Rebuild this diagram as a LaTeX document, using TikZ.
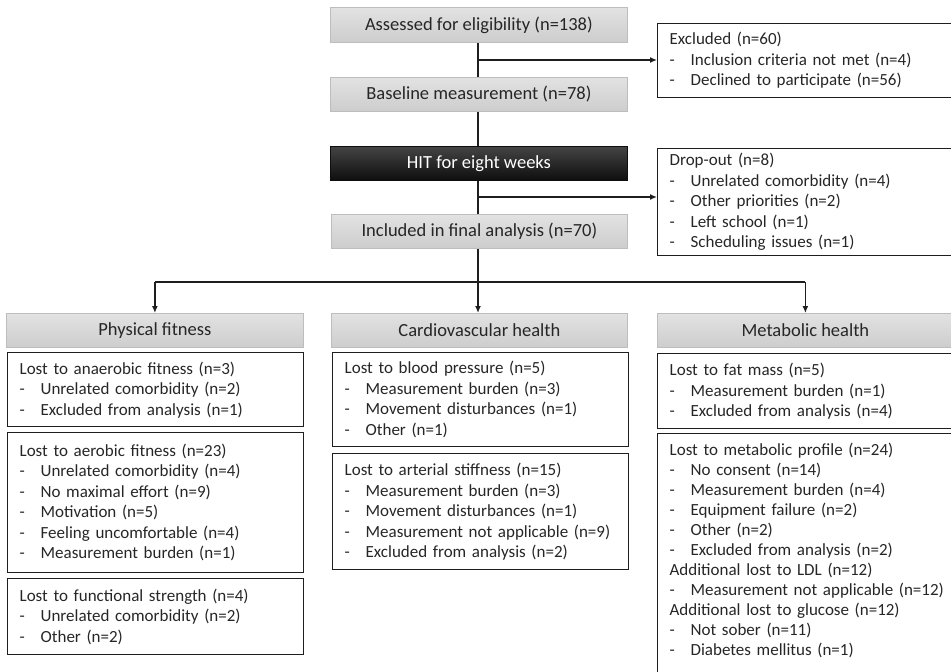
\documentclass[tikz,border=0pt]{standalone}
\usepackage{fontspec}
\setmainfont{Carlito}
\usetikzlibrary{arrows.meta}
\definecolor{linec}{HTML}{1E1E1E}
\definecolor{txt}{HTML}{262626}
\definecolor{hdrtop}{HTML}{E2E2E2}
\definecolor{hdrbot}{HTML}{CDCDCD}
\definecolor{hdrline}{HTML}{BDBDBD}
\definecolor{hittop}{HTML}{444444}
\definecolor{hitbot}{HTML}{0E0E0E}
\newcommand\itm[1]{\makebox[21pt][l]{-}#1}
\tikzset{
  hdr/.style={rectangle, anchor=north west, top color=hdrtop, bottom color=hdrbot,
    draw=hdrline, line width=0.8pt, inner sep=0pt, text=txt,
    font=\fontsize{18.5}{20}\selectfont},
  hitbox/.style={hdr, top color=hittop, bottom color=hitbot, draw=hitbot, text=white},
  listbox/.style={rectangle, anchor=north west, draw=linec, line width=1.3pt,
    inner xsep=12pt, inner ysep=0pt, align=left, text=txt,
    font=\fontsize{17}{20.5}\selectfont},
  conn/.style={draw=linec, line width=1.4pt},
  arr/.style={conn, -{Latex[length=7pt,width=6pt]}},
}
\begin{document}
\begin{tikzpicture}[x=1pt,y=-1pt]
\useasboundingbox (0,0) rectangle (951,672);
% main column
\node[hdr, minimum width=297pt, minimum height=35pt] (assess) at (330,7) {Assessed for eligibility (n=138)};
\node[hdr, minimum width=297pt, minimum height=34pt] (base) at (330,77) {Baseline measurement (n=78)};
\node[hitbox, minimum width=297pt, minimum height=34pt] (hit) at (330,146) {HIT for eight weeks};
\node[hdr, minimum width=296pt, minimum height=34pt] (incl) at (331,214) {Included in final analysis (n=70)};
% side boxes (right edge runs off the page)
\node[listbox, minimum width=296pt, minimum height=74pt, text width=290pt] (excl) at (657,23)
  {Excluded (n=60)\\ \itm{Inclusion criteria not met (n=4)}\\ \itm{Declined to participate (n=56)}};
\node[listbox, minimum width=296pt, minimum height=107pt, text width=290pt] (drop) at (657,148)
  {Drop-out (n=8)\\ \itm{Unrelated comorbidity (n=4)}\\ \itm{Other priorities (n=2)}\\ \itm{Left school (n=1)}\\ \itm{Scheduling issues (n=1)}};
% column headers
\node[hdr, minimum width=297pt, minimum height=34pt] (phys) at (6,313) {Physical fitness};
\node[hdr, minimum width=296pt, minimum height=34pt] (cardio) at (331,313) {Cardiovascular health};
\node[hdr, minimum width=296pt, minimum height=34pt] (metab) at (657,313) {Metabolic health};
% physical fitness
\node[listbox, minimum width=296pt, minimum height=74pt, text width=272pt] (p1) at (7,352)
  {Lost to anaerobic fitness (n=3)\\ \itm{Unrelated comorbidity (n=2)}\\ \itm{Excluded from analysis (n=1)}};
\node[listbox, minimum width=296pt, minimum height=140pt, text width=272pt] (p2) at (7,432)
  {Lost to aerobic fitness (n=23)\\ \itm{Unrelated comorbidity (n=4)}\\ \itm{No maximal effort (n=9)}\\ \itm{Motivation (n=5)}\\ \itm{Feeling uncomfortable (n=4)}\\ \itm{Measurement burden (n=1)}};
\node[listbox, minimum width=296pt, minimum height=76pt, text width=272pt] (p3) at (7,578)
  {Lost to functional strength (n=4)\\ \itm{Unrelated comorbidity (n=2)}\\ \itm{Other (n=2)}};
% cardiovascular
\node[listbox, minimum width=296pt, minimum height=94pt, text width=272pt] (c1) at (332,352)
  {Lost to blood pressure (n=5)\\ \itm{Measurement burden (n=3)}\\ \itm{Movement disturbances (n=1)}\\ \itm{Other (n=1)}};
\node[listbox, minimum width=296pt, minimum height=116pt, text width=272pt] (c2) at (332,453)
  {Lost to arterial stiffness (n=15)\\ \itm{Measurement burden (n=3)}\\ \itm{Movement disturbances (n=1)}\\ \itm{Measurement not applicable (n=9)}\\ \itm{Excluded from analysis (n=2)}};
% metabolic
\node[listbox, minimum width=296pt, minimum height=75pt, text width=290pt] (m1) at (657,353)
  {Lost to fat mass (n=5)\\ \itm{Measurement burden (n=1)}\\ \itm{Excluded from analysis (n=4)}};
\node[listbox, minimum width=296pt, minimum height=247pt, text width=290pt,
      font=\fontsize{17}{20}\selectfont] (m2) at (657,433)
  {Lost to metabolic profile (n=24)\\ \itm{No consent (n=14)}\\ \itm{Measurement burden (n=4)}\\ \itm{Equipment failure (n=2)}\\ \itm{Other (n=2)}\\ \itm{Excluded from analysis (n=2)}\\
   Additional lost to LDL (n=12)\\ \itm{Measurement not applicable (n=12)}\\ Additional lost to glucose (n=12)\\ \itm{Not sober (n=11)}\\ \itm{Diabetes mellitus (n=1)}\\[-4pt]\mbox{}};
% connectors
\coordinate (b1) at (478,60);
\coordinate (b2) at (478,197);
\coordinate (split) at (478,282);
\draw[conn] (assess.south -| b1) -- (base.north -| b1);
\draw[conn] (base.south -| b1) -- (hit.north -| b1);
\draw[conn] (hit.south -| b1) -- (incl.north -| b1);
\draw[conn] (incl.south -| b1) -- (split);
\draw[arr] (b1) -- (b1 -| excl.west);
\draw[arr] (b2) -- (b2 -| drop.west);
\draw[conn] (split -| phys) -- (split -| metab);
\draw[arr] (split -| phys) -- (phys.north);
\draw[arr] (split) -- (cardio.north -| split);
\draw[arr] (split -| metab) -- (metab.north);
\end{tikzpicture}
\end{document}
